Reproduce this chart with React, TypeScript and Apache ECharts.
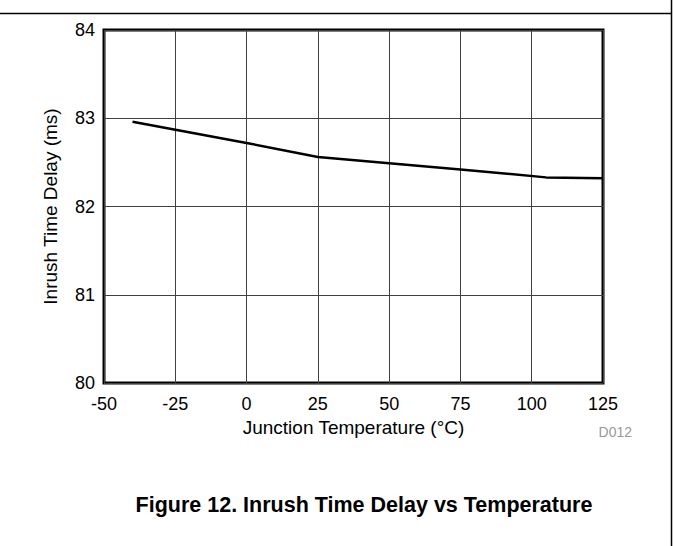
import React, { useEffect, useRef } from "react";
import * as echarts from "echarts";

const temperatures = [-40, 0, 25, 50, 75, 105, 125];
const delays = [82.96, 82.72, 82.56, 82.49, 82.42, 82.33, 82.32];
const xTicks = { min: -50, max: 125, interval: 25 };
const yTicks = { min: 80, max: 84, interval: 1 };
const xTitle = "Junction Temperature (°C)";
const yTitle = "Inrush Time Delay (ms)";
const caption = "Figure 12. Inrush Time Delay vs Temperature";
const code = "D012";

export default function App() {
  const ref = useRef<HTMLDivElement>(null);
  useEffect(() => {
    document.body.style.margin = "0";
    const chart = echarts.init(ref.current!, null, { renderer: "svg" });
    const font = "Liberation Sans, Arial, sans-serif";
    chart.setOption({
      animation: false,
      backgroundColor: "#fff",
      grid: {
        left: 104,
        right: 70,
        top: 30,
        bottom: 163,
        show: true,
        borderColor: "#000",
        borderWidth: 3,
      },
      xAxis: {
        type: "value",
        min: xTicks.min,
        max: xTicks.max,
        interval: xTicks.interval,
        name: xTitle,
        nameLocation: "middle",
        nameGap: 31,
        nameTextStyle: { fontFamily: font, fontSize: 19, color: "#000" },
        axisLine: { show: false },
        axisTick: { show: false },
        axisLabel: { fontFamily: font, fontSize: 18, color: "#000", margin: 12 },
        splitLine: { show: true, lineStyle: { color: "#404040", width: 1 } },
      },
      yAxis: {
        type: "value",
        min: yTicks.min,
        max: yTicks.max,
        interval: yTicks.interval,
        name: yTitle,
        nameLocation: "middle",
        nameGap: 44,
        nameTextStyle: { fontFamily: font, fontSize: 19, color: "#000" },
        axisLine: { show: false },
        axisTick: { show: false },
        axisLabel: { fontFamily: font, fontSize: 18, color: "#000", margin: 9 },
        splitLine: { show: true, lineStyle: { color: "#404040", width: 1 } },
      },
      series: [
        {
          type: "line",
          data: temperatures.map((t, i) => [t, delays[i]]),
          showSymbol: false,
          lineStyle: { color: "#000", width: 2.5 },
        },
      ],
      graphic: [
        { type: "line", shape: { x1: 0, y1: 13.5, x2: 672, y2: 13.5 }, style: { stroke: "#000", lineWidth: 1.5 } },
        { type: "line", shape: { x1: 671.5, y1: 0, x2: 671.5, y2: 546 }, style: { stroke: "#000", lineWidth: 1.5 } },
        {
          type: "text",
          x: 632,
          y: 432,
          style: { text: code, fontFamily: font, fontSize: 14, fill: "#999", textAlign: "right", textVerticalAlign: "middle" },
        },
        {
          type: "text",
          x: 364,
          y: 505,
          style: { text: caption, fontFamily: font, fontSize: 21.5, fontWeight: "bold", fill: "#000", textAlign: "center", textVerticalAlign: "middle" },
        },
      ],
    });
    return () => chart.dispose();
  }, []);
  return <div ref={ref} style={{ width: 673, height: 546 }} />;
}
